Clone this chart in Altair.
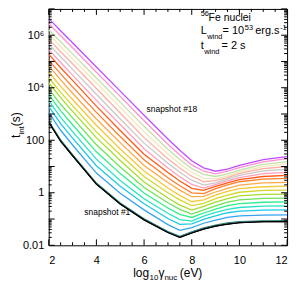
import altair as alt
import pandas as pd

FONT = "Liberation Sans"

# x grid: log10(gamma_nuc) in eV
x_vals = [2, 2.5, 3, 4, 5, 6, 7, 7.5, 8, 8.5, 9, 9.5, 10, 11, 12]

# log10(t_int / s) for each snapshot curve (bottom -> top)
s_black   = [2.69, 1.97, 1.41, 0.33, -0.43, -1.03, -1.51, -1.70, -1.53, -1.38, -1.27, -1.19, -1.14, -1.10, -1.10]
s_teal    = [2.73, 2.01, 1.45, 0.37, -0.39, -0.99, -1.48, -1.66, -1.49, -1.34, -1.23, -1.15, -1.10, -1.07, -1.06]
s_blue    = [3.06, 2.38, 1.82, 0.75, -0.02, -0.65, -1.21, -1.43, -1.33, -1.16, -1.04, -0.94, -0.88, -0.85, -0.84]
s_cyan    = [3.29, 2.63, 2.08, 1.03, 0.25, -0.42, -0.98, -1.20, -1.18, -1.01, -0.88, -0.76, -0.70, -0.66, -0.65]
s_turq    = [3.51, 2.87, 2.33, 1.28, 0.47, -0.23, -0.78, -1.02, -1.08, -0.89, -0.75, -0.63, -0.56, -0.51, -0.50]
s_spring  = [3.74, 3.12, 2.59, 1.56, 0.73, -0.01, -0.58, -0.82, -0.94, -0.77, -0.62, -0.49, -0.41, -0.36, -0.35]
s_lgreen  = [3.96, 3.37, 2.85, 1.83, 0.98, 0.20, -0.38, -0.63, -0.81, -0.65, -0.50, -0.36, -0.27, -0.21, -0.20]
s_grnyel  = [4.19, 3.62, 3.10, 2.10, 1.23, 0.41, -0.20, -0.47, -0.66, -0.52, -0.36, -0.22, -0.12, -0.06, -0.05]
s_yelgrn  = [4.38, 3.82, 3.32, 2.32, 1.45, 0.62, 0.00, -0.27, -0.49, -0.40, -0.22, -0.09, 0.02, 0.09, 0.10]
s_gold    = [4.60, 4.05, 3.55, 2.57, 1.67, 0.83, 0.18, -0.10, -0.34, -0.27, -0.09, 0.05, 0.16, 0.23, 0.25]
s_lorange = [4.83, 4.30, 3.79, 2.81, 1.91, 1.04, 0.39, 0.10, -0.15, -0.14, 0.03, 0.17, 0.29, 0.38, 0.40]
s_orange  = [5.05, 4.53, 4.03, 3.06, 2.14, 1.26, 0.57, 0.27, 0.00, -0.03, 0.16, 0.30, 0.42, 0.52, 0.55]
s_redor   = [5.28, 4.76, 4.28, 3.30, 2.37, 1.47, 0.77, 0.45, 0.17, 0.09, 0.24, 0.38, 0.50, 0.62, 0.66]
s_pink    = [5.46, 4.96, 4.48, 3.52, 2.60, 1.68, 0.94, 0.61, 0.32, 0.18, 0.31, 0.45, 0.58, 0.73, 0.78]
s_gray    = [5.65, 5.18, 4.70, 3.75, 2.81, 1.89, 1.12, 0.78, 0.48, 0.29, 0.38, 0.52, 0.66, 0.83, 0.89]
s_salmon  = [5.84, 5.37, 4.91, 3.97, 3.04, 2.10, 1.30, 0.94, 0.63, 0.42, 0.46, 0.58, 0.74, 0.92, 1.00]
s_cream   = [6.03, 5.57, 5.10, 4.18, 3.25, 2.32, 1.48, 1.10, 0.78, 0.56, 0.53, 0.64, 0.80, 1.00, 1.11]
s_lgreen2 = [6.21, 5.75, 5.29, 4.37, 3.45, 2.53, 1.66, 1.27, 0.92, 0.70, 0.62, 0.72, 0.86, 1.08, 1.19]
s_pink2   = [6.44, 5.98, 5.52, 4.59, 3.67, 2.74, 1.85, 1.44, 1.06, 0.82, 0.72, 0.82, 0.96, 1.18, 1.30]
s_magenta = [6.63, 6.17, 5.71, 4.79, 3.87, 2.95, 2.05, 1.62, 1.22, 0.95, 0.82, 0.90, 1.04, 1.26, 1.38]

series = [s_black, s_teal, s_blue, s_cyan, s_turq, s_spring, s_lgreen, s_grnyel,
          s_yelgrn, s_gold, s_lorange, s_orange, s_redor, s_pink, s_gray,
          s_salmon, s_cream, s_lgreen2, s_pink2, s_magenta]
names = ["c%02d" % (20 - i) for i in range(len(series))]
colors = ["#000000", "#2e7d7a", "#36a3f0", "#1fc8e6", "#28e3c6", "#2eee8c",
          "#6fe35a", "#a6dc2c", "#d4d829", "#f5c936", "#ffa848", "#ff7f2a",
          "#ff5a1a", "#ff9fb8", "#c8c8c8", "#ffb0a0", "#f2e6bc", "#c2e2a6",
          "#ff8fd6", "#bf4dff"]

rows = []
for name, vals in zip(names, series):
    for xv, lv in zip(x_vals, vals):
        rows.append({"x": xv, "t": 10 ** lv, "snap": name})
df = pd.DataFrame(rows)

x_major = [2, 4, 6, 8, 10, 12]
x_minor = [2.5, 3, 3.5, 4.5, 5, 5.5, 6.5, 7, 7.5, 8.5, 9, 9.5, 10.5, 11, 11.5]
y_labels = [0.01, 1, 100, 1e4, 1e6]
y_decades = [1e-2, 1e-1, 1, 10, 100, 1e3, 1e4, 1e5, 1e6, 1e7]
y_minor = [m * 10.0 ** e for e in range(-2, 7) for m in range(2, 10)]

W, H = 240, 238
xs = alt.Scale(domain=[2, 12], nice=False, zero=False)
ys = alt.Scale(type="log", domain=[0.01, 1e7], nice=False)

x_axis = alt.Axis(values=x_major, title=None, domain=False, ticks=False, grid=False,
                  labelFontSize=11, labelPadding=9, labelFont=FONT,
                  labelColor="black", format="d")
y_axis = alt.Axis(values=y_labels, title=None, domain=False, ticks=False, grid=False,
                  labelFontSize=11, labelPadding=5, labelFont=FONT, labelColor="black",
                  labelExpr="datum.value < 0.1 ? '0.01' : datum.value < 10 ? '1' : datum.value < 1000 ? '100' : datum.value < 100000 ? '10⁴' : '10⁶'")

lines = alt.Chart(df).mark_line(strokeWidth=1.3, clip=True).encode(
    x=alt.X("x:Q", scale=xs, axis=x_axis),
    y=alt.Y("t:Q", scale=ys, axis=y_axis),
    color=alt.Color("snap:N", scale=alt.Scale(domain=names, range=colors), legend=None),
)

black_top = alt.Chart(df[df["snap"] == names[0]]).mark_line(
    strokeWidth=1.2, color="#000000", clip=True).encode(
    x=alt.X("x:Q", scale=xs, axis=x_axis), y=alt.Y("t:Q", scale=ys, axis=y_axis))


def xticks(vals, length):
    d = pd.DataFrame({"v": vals})
    bot = alt.Chart(d).mark_rule(color="black", strokeWidth=1).encode(
        x=alt.X("v:Q", scale=xs, axis=x_axis), y=alt.value(H), y2=alt.value(H - length))
    top = alt.Chart(d).mark_rule(color="black", strokeWidth=1).encode(
        x=alt.X("v:Q", scale=xs, axis=x_axis), y=alt.value(0), y2=alt.value(length))
    return [bot, top]


def yticks(vals, length):
    d = pd.DataFrame({"v": vals})
    left = alt.Chart(d).mark_rule(color="black", strokeWidth=1).encode(
        y=alt.Y("v:Q", scale=ys, axis=y_axis), x=alt.value(0), x2=alt.value(length))
    right = alt.Chart(d).mark_rule(color="black", strokeWidth=1).encode(
        y=alt.Y("v:Q", scale=ys, axis=y_axis), x=alt.value(W), x2=alt.value(W - length))
    return [left, right]


def label(text, x, y, size, angle=0, align="left"):
    return alt.Chart(pd.DataFrame({"t": [text]})).mark_text(
        align=align, baseline="alphabetic", fontSize=size, font=FONT,
        color="black", angle=angle).encode(text="t:N", x=alt.value(x), y=alt.value(y))


texts = [
    # top-right legend text
    label("56", 153, 7, 7.5),
    label("Fe nuclei", 161, 12, 10.5),
    label("L", 153, 25.5, 11),
    label("wind", 159.5, 30.5, 7.5),
    label("= 10", 175, 25.5, 11),
    label("53", 197.5, 21, 7.5),
    label("erg.s", 208, 25.5, 11),
    label("-1", 233, 21, 7.5),
    label("t", 153, 40, 11),
    label("wind", 156.5, 45, 7.5),
    label("= 2 s", 174, 40, 11),
    # curve annotations
    label("snapshot #18", 124, 104, 8.5, align="center"),
    label("snapshot #1", 59, 207, 8.5, align="center"),
    # x axis title
    label("log", 85, 270, 12),
    label("10", 101.5, 273, 8),
    label("γ", 110.5, 270, 12),
    label("nuc", 116.5, 273, 8),
    label("(eV)", 132, 270, 12),
    # y axis title (rotated)
    label("t", -29, 130, 12, angle=270),
    label("int", -24.5, 126.5, 8, angle=270),
    label("(s)", -29, 118, 12, angle=270),
]

layers = [lines, black_top] + xticks(x_major, 6) + xticks(x_minor, 3) \
    + yticks(y_decades, 6) + yticks(y_minor, 3) + texts

chart = alt.layer(*layers).properties(
    width=W, height=H,
    autosize=alt.AutoSizeParams(type="none"),
    padding={"left": 41, "top": 0, "right": 12, "bottom": 35},
    background="white",
).configure_view(stroke="black", strokeWidth=1)

chart.save("out.html", embed_options={"renderer": "svg", "actions": False})
